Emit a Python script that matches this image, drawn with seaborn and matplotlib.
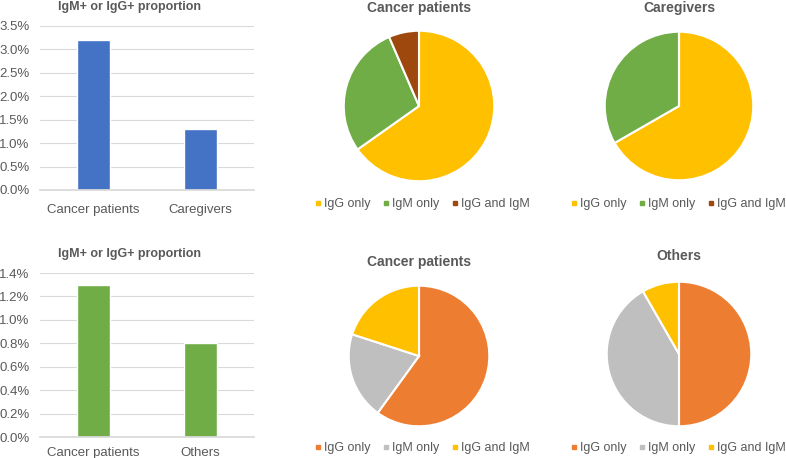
import matplotlib
matplotlib.use("Agg")
import matplotlib.pyplot as plt
from matplotlib.lines import Line2D
from matplotlib.ticker import FuncFormatter
import seaborn as sns

# data
bar_title = "IgM+ or IgG+ proportion"
top_bar_cats = ["Cancer patients", "Caregivers"]
top_bar_vals = [3.2, 1.3]          # %
bot_bar_cats = ["Cancer patients", "Others"]
bot_bar_vals = [1.3, 0.8]          # %

pie_labels = ["IgG only", "IgM only", "IgG and IgM"]
top_pie_cancer = [65.2, 28.3, 6.5]
top_pie_caregivers = [66.7, 33.3, 0.0]
bot_pie_cancer = [60.0, 20.0, 20.0]
bot_pie_others = [50.0, 41.7, 8.3]

top_pie_colors = ["#FFC000", "#70AD47", "#9E480E"]
bot_pie_colors = ["#ED7D31", "#BFBFBF", "#FFC000"]

sns.set_theme(style="white")
plt.rcParams["font.family"] = ["Liberation Sans", "DejaVu Sans"]

W, H = 786, 458
fig = plt.figure(figsize=(W / 100, H / 100), dpi=100)
fig.patch.set_facecolor("white")
text_col = "#595959"


def box(l, t, w, h):
    return fig.add_axes([l / W, 1 - (t + h) / H, w / W, h / H])


def fx(x):
    return x / W


def fy(y):
    return 1 - y / H


def bar_panel(top, cats, vals, color, ymax, step, xpad):
    ax = box(40, top, 214, 164)
    sns.barplot(x=cats, y=vals, color=color, saturation=1, width=0.31, ax=ax)
    ax.set_xlim(-0.5, 1.5)
    ax.set_ylim(0, ymax)
    n = int(round(ymax / step))
    ax.set_yticks([i * step for i in range(n + 1)])
    ax.yaxis.set_major_formatter(FuncFormatter(lambda v, p: f"{v:.1f}%"))
    ax.grid(axis="y", color="#D9D9D9", linewidth=0.8)
    ax.set_axisbelow(True)
    for s in ["top", "right", "left"]:
        ax.spines[s].set_visible(False)
    ax.spines["bottom"].set_color("#D9D9D9")
    ax.tick_params(axis="both", length=0, labelsize=9.5, labelcolor=text_col)
    ax.tick_params(axis="y", pad=7.5)
    ax.tick_params(axis="x", pad=xpad)
    ax.set_xlabel("")
    ax.set_ylabel("")
    fig.text(fx(129), fy(top - 19), bar_title, ha="center", va="center",
             fontsize=9, fontweight="bold", color=text_col)
    return ax


def pie_panel(cx, cy, r, vals, colors, title, ty, ly, lx):
    ax = box(cx - r, cy - r, 2 * r, 2 * r)
    ax.pie(vals, colors=colors, startangle=90, counterclock=False, radius=1,
           wedgeprops=dict(edgecolor="white", linewidth=1.5))
    ax.set_xlim(-1.01, 1.01)
    ax.set_ylim(-1.01, 1.01)
    ax.axis("off")
    fig.text(fx(cx), fy(ty), title, ha="center", va="center", fontsize=10,
             fontweight="bold", color=text_col)
    handles = [Line2D([0], [0], marker="s", linestyle="", markersize=3.5,
                      markerfacecolor=c, markeredgecolor=c) for c in colors]
    fig.legend(handles, pie_labels, loc="center", bbox_to_anchor=(fx(lx), fy(ly)),
               ncol=3, frameon=False, fontsize=9, labelcolor=text_col,
               handletextpad=0.2, columnspacing=0.9, handlelength=0.6,
               borderpad=0.1, borderaxespad=0)


bar_panel(26, top_bar_cats, top_bar_vals, "#4472C4", 3.5, 0.5, 10)
bar_panel(273, bot_bar_cats, bot_bar_vals, "#70AD47", 1.4, 0.2, 7)

pie_panel(419, 106, 76, top_pie_cancer, top_pie_colors, "Cancer patients", 8, 204, 422)
pie_panel(679, 106, 75, top_pie_caregivers, top_pie_colors, "Caregivers", 8, 204, 678)
pie_panel(419, 356, 71, bot_pie_cancer, bot_pie_colors, "Cancer patients", 262, 448, 422)
pie_panel(679, 354, 73, bot_pie_others, bot_pie_colors, "Others", 256, 448, 678)

fig.savefig("out.png", dpi=100, facecolor="white")
